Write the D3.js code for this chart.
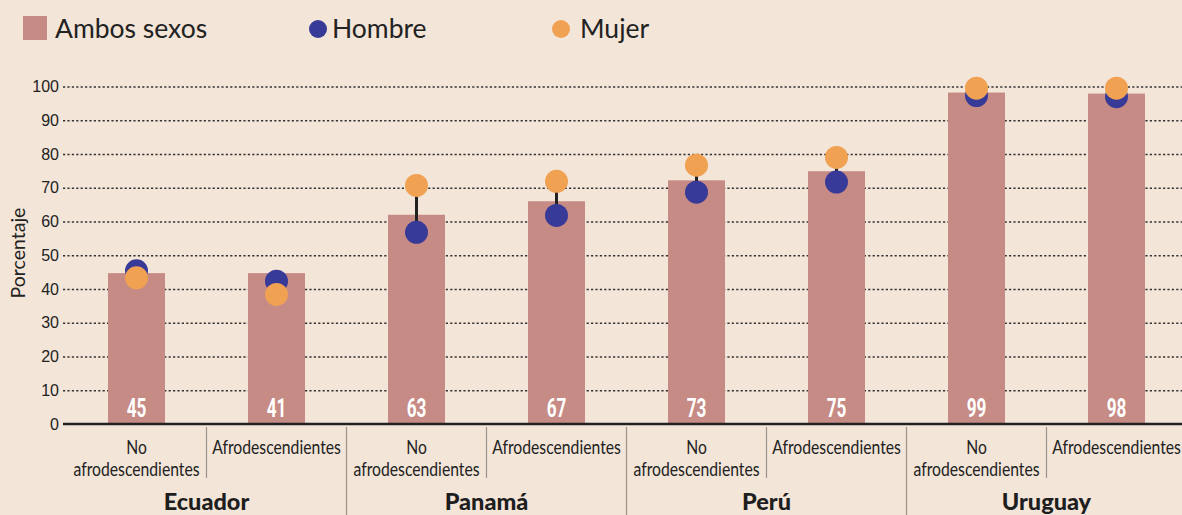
<!DOCTYPE html>
<html>
<head>
<meta charset="utf-8">
<script src="https://cdn.jsdelivr.net/npm/d3@7"></script>
<style>
  body { margin: 0; background: #f3e5d8; }
  svg { display: block; }
</style>
</head>
<body>
<svg width="1182" height="515"></svg>
<script>
// datos
const paises = ["Ecuador", "Panamá", "Perú", "Uruguay"];
const grupos = ["No afrodescendientes", "Afrodescendientes"];
const ambos = [44.7, 44.7, 62, 66, 72.2, 74.9, 98.2, 97.9];      // altura de barra
const etiquetas = [45, 41, 63, 67, 73, 75, 99, 98];              // texto dentro de la barra
const hombre = [45.4, 42.3, 56.8, 61.8, 68.7, 71.7, 97.3, 97.0];
const mujer = [43.3, 38.4, 70.7, 71.9, 76.7, 79.0, 99.5, 99.5];
const ticksY = [0, 10, 20, 30, 40, 50, 60, 70, 80, 90, 100];

const colores = { ambos: "#c68b85", hombre: "#383a98", mujer: "#f0a152" };

const svg = d3.select("svg");
const W = 1182;

// una clave por barra
let filas = [];
paises.forEach((p, i) => {
    grupos.forEach((g, j) => {
        let k = i * 2 + j;
        filas.push({ key: p + "|" + g, pais: p, grupo: g, ambos: ambos[k], etiqueta: etiquetas[k], hombre: hombre[k], mujer: mujer[k] });
    });
});

const scX = d3.scaleBand()
    .domain(filas.map(d => d.key))
    .range([66.5, 1186.5])
    .padding(0);

const scY = d3.scaleLinear()
    .domain([0, 100])
    .range([424, 86.5]);

const barW = scX.bandwidth() * 0.407;
const xAxis0 = 63;

// rejilla y eje Y
const axisY = d3.axisLeft(scY)
    .tickValues(ticksY)
    .tickSize(-(W - xAxis0))
    .tickPadding(4);

const gY = svg.append("g")
    .attr("transform", `translate(${xAxis0},0)`)
    .call(axisY);
gY.select(".domain").remove();
gY.selectAll(".tick line")
    .attr("stroke", "#333")
    .attr("stroke-width", 1.5)
    .attr("stroke-dasharray", "2.2,2.2");
gY.selectAll(".tick text")
    .attr("fill", "#222")
    .style("font-family", "'Liberation Sans', Arial, sans-serif")
    .style("font-size", "16px");
gY.selectAll(".tick").filter(d => d === 0).select("line").remove();

svg.append("text")
    .attr("transform", `translate(25,${253}) rotate(-90)`)
    .attr("text-anchor", "middle")
    .style("font-family", "Lato, sans-serif")
    .style("font-size", "19.5px")
    .attr("fill", "#222")
    .text("Porcentaje");

// barras
svg.selectAll(".bar")
    .data(filas)
    .enter()
    .append("rect")
    .attr("class", "bar")
    .attr("x", d => scX(d.key) + scX.bandwidth() / 2 - barW / 2)
    .attr("y", d => scY(d.ambos))
    .attr("width", barW)
    .attr("height", d => scY(0) - scY(d.ambos))
    .style("fill", colores.ambos);

// valores dentro de la barra (letra condensada)
svg.selectAll(".valor")
    .data(filas)
    .enter()
    .append("text")
    .attr("class", "valor")
    .attr("transform", d => `translate(${scX(d.key) + scX.bandwidth() / 2},417) scale(0.66,1)`)
    .attr("text-anchor", "middle")
    .style("font-family", "Roboto, sans-serif")
    .style("font-weight", "bold")
    .style("font-size", "26px")
    .attr("fill", "#fff")
    .text(d => d.etiqueta);

// eje cero
svg.append("line")
    .attr("x1", xAxis0).attr("x2", W)
    .attr("y1", scY(0)).attr("y2", scY(0))
    .attr("stroke", "#222")
    .attr("stroke-width", 2.5);

// conectores hombre-mujer
svg.selectAll(".conector")
    .data(filas)
    .enter()
    .append("line")
    .attr("class", "conector")
    .attr("x1", d => scX(d.key) + scX.bandwidth() / 2)
    .attr("x2", d => scX(d.key) + scX.bandwidth() / 2)
    .attr("y1", d => scY(d.hombre))
    .attr("y2", d => scY(d.mujer))
    .attr("stroke", "#222")
    .attr("stroke-width", 3);

const r = 11.5;
svg.selectAll(".hombre")
    .data(filas)
    .enter()
    .append("circle")
    .attr("r", r)
    .attr("cx", d => scX(d.key) + scX.bandwidth() / 2)
    .attr("cy", d => scY(d.hombre))
    .style("fill", colores.hombre);

svg.selectAll(".mujer")
    .data(filas)
    .enter()
    .append("circle")
    .attr("r", r)
    .attr("cx", d => scX(d.key) + scX.bandwidth() / 2)
    .attr("cy", d => scY(d.mujer))
    .style("fill", colores.mujer);

// separadores del eje X
filas.forEach((d, i) => {
    if (i === 0) return;
    let x = scX(d.key);
    svg.append("line")
        .attr("x1", x).attr("x2", x)
        .attr("y1", 427)
        .attr("y2", i % 2 === 0 ? 515 : 478)
        .attr("stroke", "#9a9590")
        .attr("stroke-width", 1.2);
});

// etiquetas de grupo (cada linea es un texto aparte)
const fontX = "Lato, sans-serif";
filas.forEach(d => {
    let cx = scX(d.key) + scX.bandwidth() / 2;
    let lineas = d.grupo === "No afrodescendientes"
        ? [["No", 454], ["afrodescendientes", 476]]
        : [["Afrodescendientes", 454]];
    lineas.forEach(([txt, y]) => {
        svg.append("text")
            .attr("transform", `translate(${cx},${y}) scale(0.85,1)`)
            .attr("text-anchor", "middle")
            .style("font-family", fontX)
            .style("font-size", "18.5px")
            .attr("fill", "#222")
            .text(txt);
    });
});

// etiquetas de pais
paises.forEach(p => {
    let k1 = p + "|" + grupos[0];
    let cx = scX(k1) + scX.bandwidth();
    svg.append("text")
        .attr("x", cx)
        .attr("y", 510)
        .attr("text-anchor", "middle")
        .style("font-family", "Lato, sans-serif")
        .style("font-weight", "900")
        .style("font-size", "23.5px")
        .attr("fill", "#1e1e1e")
        .text(p);
});

// leyenda
const ley = svg.append("g").style("font-family", "Lato, sans-serif").style("font-size", "26.5px").attr("fill", "#222");
ley.append("rect").attr("x", 23).attr("y", 16).attr("width", 24).attr("height", 24).style("fill", colores.ambos);
ley.append("text").attr("x", 55).attr("y", 38).text("Ambos sexos");
ley.append("circle").attr("cx", 318).attr("cy", 29).attr("r", 9).style("fill", colores.hombre);
ley.append("text").attr("x", 332).attr("y", 38).text("Hombre");
ley.append("circle").attr("cx", 561).attr("cy", 29).attr("r", 9).style("fill", colores.mujer);
ley.append("text").attr("x", 580).attr("y", 38).text("Mujer");
</script>
</body>
</html>
